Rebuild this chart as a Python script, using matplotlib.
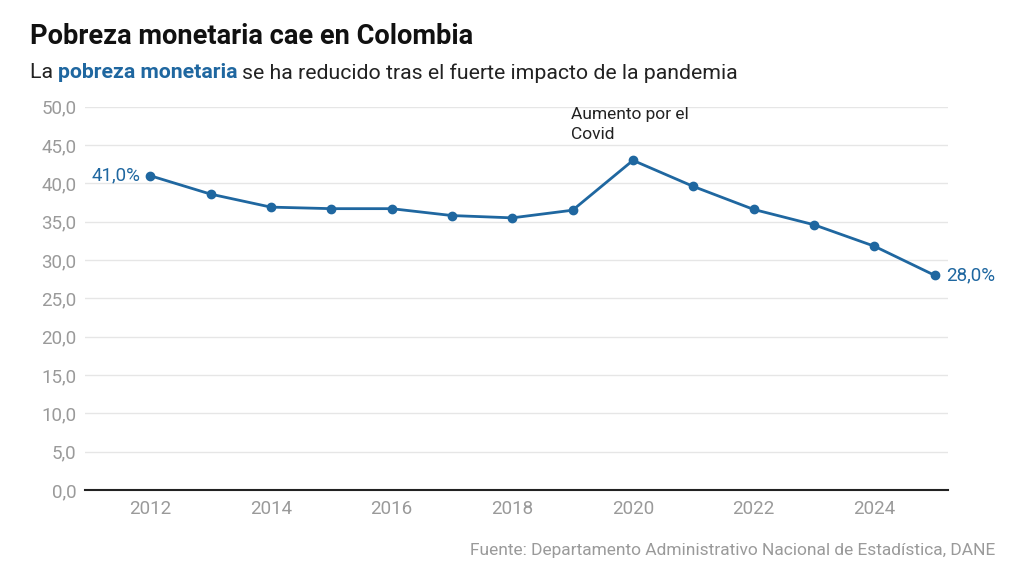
import matplotlib
matplotlib.use("Agg")
import matplotlib.pyplot as plt
from matplotlib import font_manager
from matplotlib.ticker import FuncFormatter

# data
years = [2012, 2013, 2014, 2015, 2016, 2017, 2018, 2019, 2020, 2021, 2022, 2023, 2024, 2025]
pobreza = [41.0, 38.6, 36.9, 36.7, 36.7, 35.8, 35.5, 36.5, 43.0, 39.6, 36.6, 34.6, 31.8, 28.0]
xticks = [2012, 2014, 2016, 2018, 2020, 2022, 2024]
yticks = [0, 5, 10, 15, 20, 25, 30, 35, 40, 45, 50]

plt.rcParams['font.family'] = ['Roboto', 'DejaVu Sans']

blue = "#1f67a0"
grey = "#9a9a9a"

fig = plt.figure(figsize=(10.24, 5.76), dpi=100)
ax = fig.add_axes([85/1024, 1-490/576, (948-85)/1024, (490-106.7)/576])

ax.plot(years, pobreza, color=blue, lw=2, marker='o', ms=6, zorder=3, clip_on=False)
ax.set_xlim(2010.92, 2025.22)
ax.set_ylim(0, 50)
ax.set_xticks(xticks)
ax.set_yticks(yticks)
ax.yaxis.set_major_formatter(FuncFormatter(lambda v, p: f"{v:.1f}".replace('.', ',')))
ax.tick_params(length=0, labelsize=13.5, colors=grey, pad=6)
ax.tick_params(axis='x', pad=7)
ax.grid(axis='y', color="#e6e6e6", lw=1)
ax.set_axisbelow(True)
for s in ['top', 'right', 'left']:
    ax.spines[s].set_visible(False)
ax.spines['bottom'].set_color("#222222")
ax.spines['bottom'].set_linewidth(1.5)

# end labels
ax.annotate(f"{pobreza[0]:.1f}%".replace('.', ','), (years[0], pobreza[0]), xytext=(-7, 0),
            textcoords='offset points', ha='right', va='center', color=blue, fontsize=13.5)
ax.annotate(f"{pobreza[-1]:.1f}%".replace('.', ','), (years[-1], pobreza[-1]), xytext=(8, 0),
            textcoords='offset points', ha='left', va='center', color=blue, fontsize=13.5,
            annotation_clip=False)
ax.text(2018.98, 50.0, "Aumento por el\nCovid", ha='left', va='top', fontsize=12.5,
        color="#222222", linespacing=1.45, clip_on=False)

fig.text(30/1024, 1-37/576, "Pobreza monetaria cae en Colombia", fontsize=19.6, fontweight='bold',
         color="#111111", va='center', ha='left')
t1 = fig.text(30/1024, 1-73/576, "La ", fontsize=15.3, color="#222222", va='center', ha='left')
fig.canvas.draw()
r = fig.canvas.get_renderer()
bb = t1.get_window_extent(r)
t2 = fig.text(bb.x1/1024, 1-73/576, "pobreza monetaria", fontsize=15.3, fontweight='bold',
              color=blue, va='center', ha='left')
bb2 = t2.get_window_extent(r)
fig.text(bb2.x1/1024 + 4/1024, 1-73/576, "se ha reducido tras el fuerte impacto de la pandemia",
         fontsize=15.3, color="#222222", va='center', ha='left')

fig.text(995/1024, 1-551/576, "Fuente: Departamento Administrativo Nacional de Estadística, DANE",
         fontsize=12.5, color=grey, ha='right', va='center')

fig.savefig("out.png", dpi=100)
